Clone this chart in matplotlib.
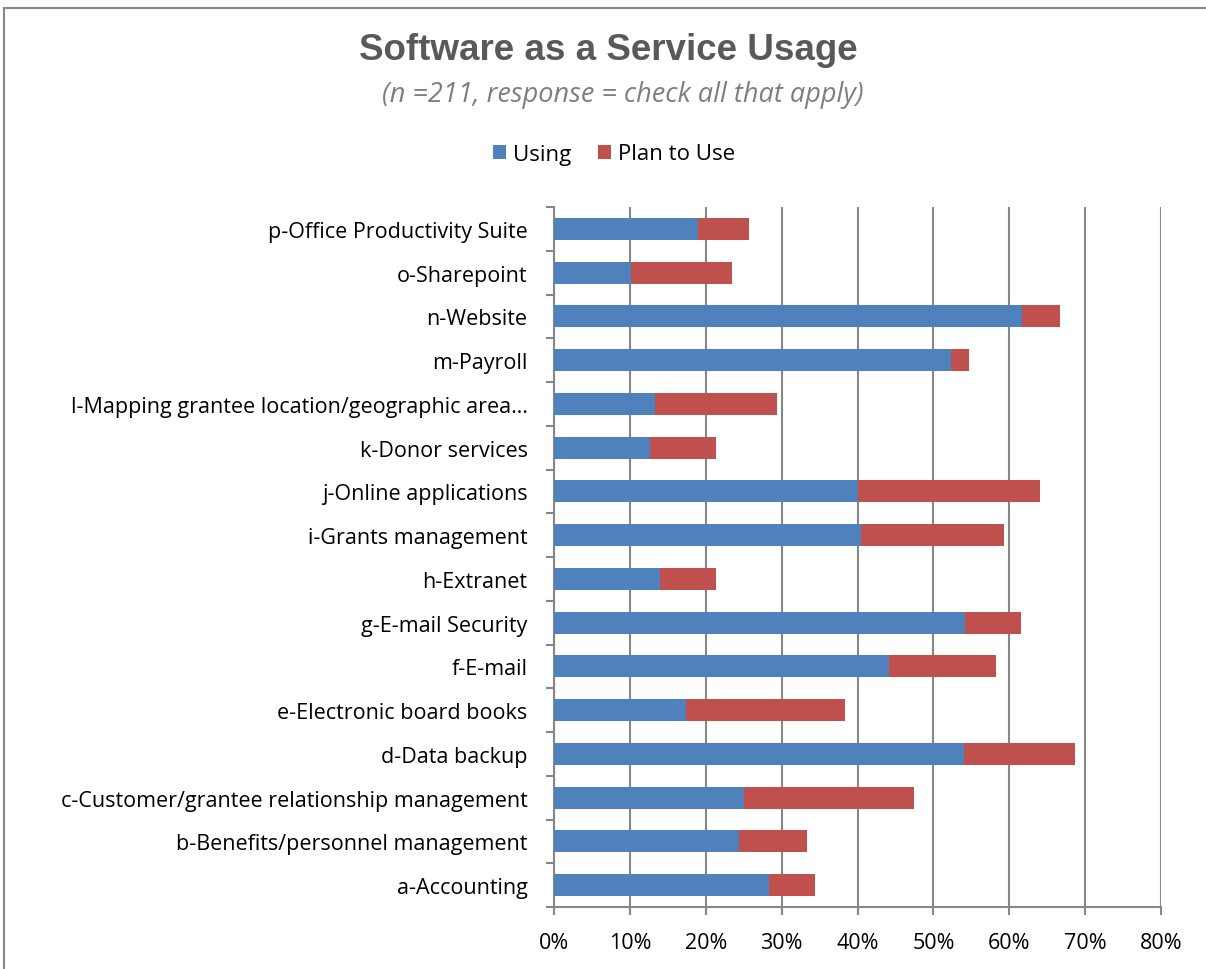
import matplotlib
matplotlib.use("Agg")
import matplotlib.pyplot as plt
from matplotlib.patches import Rectangle

categories = [
    "a-Accounting",
    "b-Benefits/personnel management",
    "c-Customer/grantee relationship management",
    "d-Data backup",
    "e-Electronic board books",
    "f-E-mail",
    "g-E-mail Security",
    "h-Extranet",
    "i-Grants management",
    "j-Online applications",
    "k-Donor services",
    "l-Mapping grantee location/geographic area…",
    "m-Payroll",
    "n-Website",
    "o-Sharepoint",
    "p-Office Productivity Suite",
]
using = [28.4, 24.4, 25.1, 54.1, 17.4, 44.1, 54.2, 14.0, 40.5, 40.1, 12.7, 13.3, 52.3, 61.7, 10.2, 19.0]
plan_to_use = [6.0, 8.9, 22.4, 14.5, 21.0, 14.2, 7.3, 7.4, 18.8, 23.9, 8.6, 16.1, 2.4, 5.0, 13.3, 6.7]
xticks = [0, 10, 20, 30, 40, 50, 60, 70, 80]
xtick_labels = [f"{t}%" for t in xticks]

plt.rcParams['font.family'] = ['Open Sans', 'DejaVu Sans']

W, H = 1206, 970
fig = plt.figure(figsize=(W / 100, H / 100), dpi=100)

# chart border
fig.patches.append(Rectangle((4 / W, -0.01), (W + 10) / W, (H - 9) / H + 0.01,
                             transform=fig.transFigure, fill=False,
                             edgecolor="#878787", linewidth=1.5))

left, right, top, bottom = 554, 1161, 208, 908
ax = fig.add_axes([left / W, 1 - bottom / H, (right - left) / W, (bottom - top) / H])

blue = "#4F81BD"
red = "#C0504D"
y = list(range(len(categories)))
ax.barh(y, using, height=0.5, color=blue, label="Using", zorder=3)
ax.barh(y, plan_to_use, left=using, height=0.5, color=red, label="Plan to Use", zorder=3)

ax.set_xlim(0, 80)
ax.set_ylim(-0.5, len(categories) - 0.5)
ax.set_xticks(xticks)
ax.set_xticklabels(xtick_labels, fontsize=15.5)
ax.set_yticks(y)
ax.set_yticklabels(categories, fontsize=15.5)
ax.tick_params(axis="y", length=0, pad=19)
ax.tick_params(axis="x", length=6, width=1.5, color="#878787", pad=12)
# category boundary ticks on y axis
ax.set_yticks([i - 0.5 for i in range(len(categories) + 1)], minor=True)
ax.tick_params(axis="y", which="minor", length=6, width=1.5, color="#878787")

ax.grid(axis="x", color="#878787", linewidth=1.5, zorder=0)
for s in ["top", "right"]:
    ax.spines[s].set_visible(False)
for s in ["left", "bottom"]:
    ax.spines[s].set_color("#878787")
    ax.spines[s].set_linewidth(1.5)

fig.text(608 / W, 1 - 51 / H, "Software as a Service Usage", ha="center", va="center",
         fontsize=26.5, fontweight="bold", color="#595959",
         family=["Liberation Sans Narrow", "Liberation Sans", "DejaVu Sans"])
fig.text(623 / W, 1 - 95 / H, "(n =211, response = check all that apply)", ha="center", va="center",
         fontsize=19.5, style="italic", color="#7F7F7F")

fig.legend(loc="center", bbox_to_anchor=(614 / W, 1 - 155 / H), ncol=2, frameon=False,
           fontsize=16, handlelength=0.6, handleheight=0.6, handletextpad=0.3, columnspacing=1.2)

fig.savefig("out.png", dpi=100)
